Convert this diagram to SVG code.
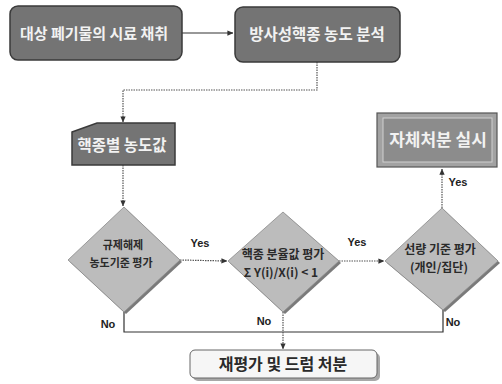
<svg xmlns="http://www.w3.org/2000/svg" width="502" height="384" viewBox="0 0 502 384">
<defs>
<marker id="ah" viewBox="0 0 8 8" refX="7.5" refY="4" markerWidth="6" markerHeight="6" orient="auto" markerUnits="userSpaceOnUse">
<path d="M0,0.5 L8,4 L0,7.5 Z" fill="#333"/>
</marker>
<style>
.dark{fill:#747474;stroke:#3a3a3a;stroke-width:1.5}
.dtxt{font-family:"Noto Sans CJK KR","Noto Sans",sans-serif;font-weight:700;fill:#f2f2f2;text-anchor:middle}
.dia{fill:#bcbcbc;stroke:#8a8a8a;stroke-width:0.8}
.shd{fill:#7a7a7a}
.itxt{font-family:"Noto Sans CJK KR","Noto Sans",sans-serif;font-weight:700;fill:#2a2a2a;text-anchor:middle}
.lbl{font-family:"Liberation Sans Narrow","Liberation Sans",sans-serif;font-weight:700;font-size:11px;fill:#222}
.dot{fill:none;stroke:#555;stroke-width:1.2;stroke-dasharray:1.5 1}
.sol{fill:none;stroke:#333;stroke-width:1.2}
</style>
</defs>

<g id="connectors">
<path class="sol" d="M182,33 L233,33" marker-end="url(#ah)"/>
<path class="dot" d="M317,62 L317,90 L123,90 L123,122" marker-end="url(#ah)"/>
<path class="dot" d="M123,165 L123,206" marker-end="url(#ah)"/>
<path class="dot" d="M180,260 L227,261" marker-end="url(#ah)"/>
<path class="dot" d="M339,261 L384,261" marker-end="url(#ah)"/>
<path class="dot" d="M442,208 L442,169" marker-end="url(#ah)"/>
<path class="sol" d="M124,312 L124,332 L443,332 L443,310"/>
<path class="dot" d="M283,312 L283,349" marker-end="url(#ah)"/>
<text class="lbl" x="200" y="247" text-anchor="middle">Yes</text>
<text class="lbl" x="357" y="246" text-anchor="middle">Yes</text>
<text class="lbl" x="458" y="186" text-anchor="middle">Yes</text>
<text class="lbl" x="108" y="328" text-anchor="middle">No</text>
<text class="lbl" x="264" y="325" text-anchor="middle">No</text>
<text class="lbl" x="453" y="326" text-anchor="middle">No</text>
</g>

<g id="n1">
<rect class="dark" x="10" y="6" width="172" height="54" rx="8"/>
<text class="dtxt" x="94" y="39" font-size="15">대상 폐기물의 시료 채취</text>
</g>

<g id="n2">
<rect class="dark" x="235" y="7" width="165" height="55" rx="8"/>
<text class="dtxt" x="317" y="40" font-size="15.5">방사성핵종 농도 분석</text>
</g>

<g id="n3">
<path class="dark" d="M72,132 L97,123 L175,123 L175,165 L72,165 Z"/>
<text class="dtxt" x="122" y="151" font-size="15.5">핵종별 농도값</text>
</g>

<g id="n4">
<rect x="377" y="113" width="120" height="54" fill="#a2a2a2" stroke="#555" stroke-width="1.2"/>
<rect x="383" y="118" width="109" height="44" fill="#8c8c8c" stroke="#d0d0d0" stroke-width="1"/>
<text class="dtxt" x="438" y="146" font-size="17">자체처분 실시</text>
</g>

<g id="d1">
<polygon class="shd" points="126,209 182,262 126,314 70,262"/>
<polygon class="dia" points="124,207 180,260 124,312 68,260"/>
<text class="itxt" x="123" y="249" font-size="11">규제해제</text>
<text class="itxt" x="121" y="267" font-size="11">농도기준 평가</text>
</g>

<g id="d2">
<polygon class="shd" points="285,214 341,263 285,314 230,263"/>
<polygon class="dia" points="283,212 339,261 283,312 228,261"/>
<text class="itxt" x="283" y="259" font-size="12">핵종 분율값 평가</text>
<text class="itxt" x="281" y="277" font-size="12">Σ Y(i)/X(i) &lt; 1</text>
</g>

<g id="d3">
<polygon class="shd" points="444,210 500,263 445,312 387,263"/>
<polygon class="dia" points="442,208 498,261 443,310 385,261"/>
<text class="itxt" x="440" y="254" font-size="12">선량 기준 평가</text>
<text class="itxt" x="439" y="272" font-size="12">(개인/집단)</text>
</g>

<g id="n5">
<rect x="193" y="353" width="187" height="28" rx="5" fill="#a8a8a8"/>
<rect x="190" y="350" width="187" height="28" rx="5" fill="#f6f6f6" stroke="#666" stroke-width="1"/>
<text class="itxt" x="283" y="370" font-size="16">재평가 및 드럼 처분</text>
</g>
</svg>
